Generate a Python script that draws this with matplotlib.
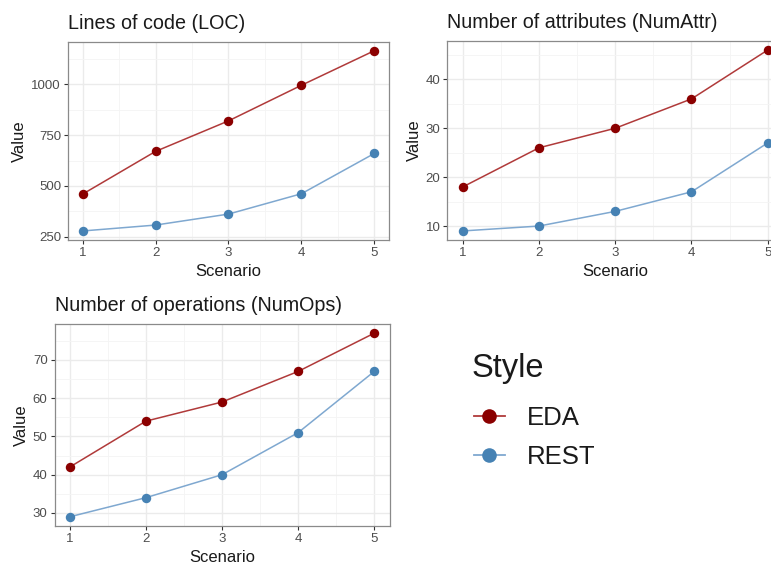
import numpy as np
import matplotlib
matplotlib.use("Agg")
import matplotlib.pyplot as plt
from matplotlib.lines import Line2D

plt.rcParams['font.family'] = ['Liberation Sans', 'DejaVu Sans']

# data
scenario = [1, 2, 3, 4, 5]
loc_eda = [460, 670, 820, 995, 1165]
loc_rest = [279, 308, 362, 462, 660]
attr_eda = [18, 26, 30, 36, 46]
attr_rest = [9, 10, 13, 17, 27]
ops_eda = [42, 54, 59, 67, 77]
ops_rest = [29, 34, 40, 51, 67]

titles = ["Lines of code (LOC)", "Number of attributes (NumAttr)",
          "Number of operations (NumOps)"]
yticks = [[250, 500, 750, 1000], [10, 20, 30, 40], [30, 40, 50, 60, 70]]
styles = ["EDA", "REST"]

pointCol = {"EDA": "#8B0000", "REST": "#4682B4"}
lineCol = {"EDA": "#B03A3A", "REST": "#7FA8D0"}

fig = plt.figure(figsize=(7.71, 5.66), dpi=100)
boxes = [[0.0882, 0.576, 0.4163, 0.3504],
         [0.5804, 0.576, 0.4351, 0.3516],
         [0.0707, 0.0707, 0.4345, 0.3569]]
panels = [(loc_eda, loc_rest), (attr_eda, attr_rest), (ops_eda, ops_rest)]

for box, title, ticks, (eda, rest) in zip(boxes, titles, yticks, panels):
    ax = fig.add_axes(box)
    for name, vals in zip(styles, [eda, rest]):
        ax.plot(scenario, vals, color=lineCol[name], lw=1.1, zorder=3)
        ax.plot(scenario, vals, 'o', color=pointCol[name], ms=6.8,
                mec='none', zorder=4)
    ax.set_xticks(scenario)
    ax.set_xticks([1.5, 2.5, 3.5, 4.5], minor=True)
    step = ticks[1] - ticks[0]
    ax.set_yticks(ticks)
    ax.set_yticks([t + step / 2 for t in ticks[:-1]] +
                  [ticks[0] - step / 2, ticks[-1] + step / 2], minor=True)
    lo, hi = min(rest + eda), max(rest + eda)
    pad = (hi - lo) * 0.05
    ax.set_ylim(lo - pad, hi + pad)
    ax.set_xlim(0.8, 5.2)
    ax.grid(which='major', color='#EBEBEB', lw=1.0, zorder=0)
    ax.grid(which='minor', color='#F4F4F4', lw=0.6, zorder=0)
    ax.set_axisbelow(True)
    for s in ax.spines.values():
        s.set_color('#8A8A8A')
        s.set_linewidth(0.9)
    ax.tick_params(which='major', length=3, width=0.8, color='#333333',
                   labelcolor='#4D4D4D', labelsize=9.5, pad=2)
    ax.tick_params(which='minor', length=0)
    ax.set_xlabel("Scenario", fontsize=12, color='#1A1A1A', labelpad=4)
    ax.set_ylabel("Value", fontsize=12, color='#1A1A1A', labelpad=3)
    ax.set_title(title, loc='left', fontsize=14.2, color='#1A1A1A', pad=9)

# legend: title drawn as its own text so the gap matches ggplot
fig.text(472 / 771, 1 - 368 / 566, "Style", fontsize=23.5,
         color='#1A1A1A', va='center', ha='left')
handles = [Line2D([0], [0], color=lineCol[n], lw=1.3, marker='o', ms=10.5,
                  mfc=pointCol[n], mec='none') for n in styles]
leg = fig.legend(handles, styles, loc='center left',
                 bbox_to_anchor=(474 / 771, 1 - 437.5 / 566),
                 frameon=False, fontsize=18.5, handlelength=1.2,
                 handletextpad=0.85, labelspacing=0.6, borderpad=0,
                 borderaxespad=0)
for t in leg.get_texts():
    t.set_color('#1A1A1A')

fig.savefig("out.png", dpi=100)
